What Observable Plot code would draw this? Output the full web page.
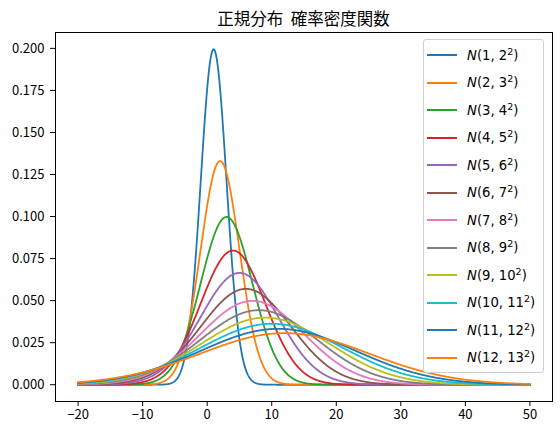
<!DOCTYPE html>
<html>
<head>
<meta charset="utf-8">
<script src="https://cdn.jsdelivr.net/npm/d3@7"></script>
<script src="https://cdn.jsdelivr.net/npm/@observablehq/plot@0.6"></script>
<style>
  html, body { margin: 0; padding: 0; background: #fff; }
  #wrap { position: relative; width: 560px; height: 434px; overflow: hidden; }
  #title { height: 30px; box-sizing: border-box; padding-top: 8px; line-height: 20px;
           font-family: "Noto Sans CJK JP", sans-serif; font-size: 16.5px; color: #000;
           text-align: center; padding-left: 47px; word-spacing: 4px; }
  #legend { position: absolute; left: 423px; top: 39px; width: 121px; height: 334px;
            box-sizing: border-box; border: 1px solid #d0d0d0; border-radius: 3px;
            background: rgba(255,255,255,0.8); padding-top: 1.5px; }
  .row { height: 27.5px; position: relative; }
  .row .swatch { position: absolute; left: 3px; top: 12.9px; width: 30px; height: 1.8px; }
  .row .lbl { position: absolute; left: 43px; top: 4px; font-family: "DejaVu Sans", sans-serif;
              font-size: 13.2px; line-height: 20px; white-space: nowrap; color: #000; }
  .row .lbl i { font-style: italic; }
  .row .lbl sup { font-size: 9.5px; vertical-align: 5px; line-height: 0; }
</style>
</head>
<body>
<div id="wrap">
  <div id="title"></div>
  <div id="chart"></div>
  <div id="legend"></div>
</div>
<script>
// Parameters: N(mean, sd^2)
const means = [1, 2, 3, 4, 5, 6, 7, 8, 9, 10, 11, 12];
const sds   = [2, 3, 4, 5, 6, 7, 8, 9, 10, 11, 12, 13];
const xStart = -20, xEnd = 50, nPoints = 1000;
const colors = ["#1f77b4", "#ff7f0e", "#2ca02c", "#d62728", "#9467bd", "#8c564b",
                "#e377c2", "#7f7f7f", "#bcbd22", "#17becf", "#1f77b4", "#ff7f0e"];
const xTicks = [-20, -10, 0, 10, 20, 30, 40, 50];
const yTicks = [0, 0.025, 0.05, 0.075, 0.1, 0.125, 0.15, 0.175, 0.2];
const titleText = "正規分布 確率密度関数";

document.getElementById("title").textContent = titleText;

const xs = d3.range(nPoints).map(i => xStart + (xEnd - xStart) * i / (nPoints - 1));
const series = means.map((m, k) => {
  const s = sds[k];
  return xs.map(x => ({x, y: Math.exp(-0.5 * ((x - m) / s) ** 2) / (s * Math.sqrt(2 * Math.PI))}));
});

const yMax = d3.max(series.flat(), d => d.y);
const yPad = yMax * 0.05;
const xPad = (xEnd - xStart) * 0.05;

const tickFont = `"Noto Sans CJK JP", sans-serif`;

const plot = Plot.plot({
  width: 560,
  height: 404,
  marginTop: 2,
  marginBottom: 33,
  marginLeft: 55,
  marginRight: 8,
  style: {fontFamily: tickFont, fontSize: "13px", color: "#000", background: "transparent"},
  x: {domain: [xStart - xPad, xEnd + xPad]},
  y: {domain: [-yPad, yMax + yPad]},
  marks: [
    ...series.map((data, k) => Plot.line(data, {x: "x", y: "y", stroke: colors[k], strokeWidth: 1.8})),
    Plot.frame({stroke: "#000", strokeWidth: 1}),
    Plot.axisX({ticks: xTicks, tickSize: 5, tickPadding: 3, label: null, stroke: "#000", fill: "#000",
                tickFormat: d => d3.format("d")(d)}),
    Plot.axisY({ticks: yTicks, tickSize: 5, tickPadding: 6, label: null, stroke: "#000", fill: "#000",
                tickFormat: d3.format(".3f")})
  ]
});
document.getElementById("chart").appendChild(plot);

const legend = document.getElementById("legend");
means.forEach((m, k) => {
  const row = document.createElement("div");
  row.className = "row";
  const sw = document.createElement("div");
  sw.className = "swatch";
  sw.style.background = colors[k];
  const lbl = document.createElement("div");
  lbl.className = "lbl";
  lbl.innerHTML = `<i>N</i>(${m}, ${sds[k]}<sup>2</sup>)`;
  row.appendChild(sw);
  row.appendChild(lbl);
  legend.appendChild(row);
});
</script>
</body>
</html>
